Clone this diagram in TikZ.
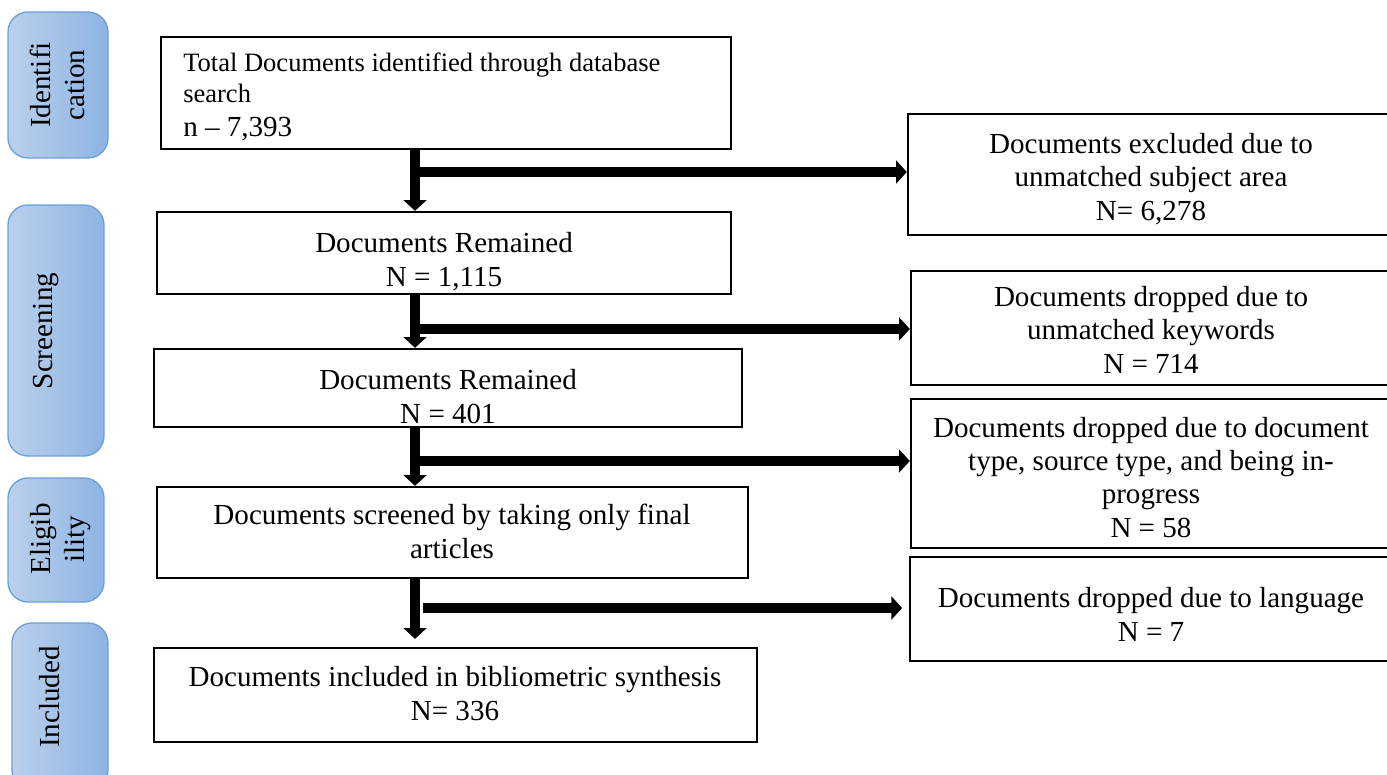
\documentclass[tikz,border=0pt]{standalone}
\usepackage{fontspec}
\setmainfont{Liberation Serif}
\usetikzlibrary{arrows.meta,fit}
\definecolor{lblL}{RGB}{187,208,236}
\definecolor{lblR}{RGB}{141,180,227}
\definecolor{lblB}{RGB}{108,160,216}
\newcommand{\mainfs}{\fontsize{21.8pt}{25pt}\selectfont}
\newcommand{\smallfs}{\fontsize{19.9pt}{22.5pt}\selectfont}
\begin{document}
\begin{tikzpicture}[x=0.75pt,y=-0.75pt,
  box/.style={draw=black,line width=1.8pt,inner sep=0pt,rectangle},
  lbl/.style={draw=lblB,line width=1pt,rounded corners=15pt,left color=lblL,right color=lblR,inner sep=0pt,rectangle},
  txt/.style={font=\mainfs,align=center,anchor=base,inner sep=0pt},
  rtxt/.style={font=\mainfs,align=center,anchor=base,inner sep=0pt,rotate=90},
  flow/.style={line width=7pt,-{Triangle[length=8pt,width=17pt]}}]
\clip (0,0) rectangle (1387,774);
% stage labels
\node[lbl, fit={(8,12) (108,158)}] (l1) {};
\node[rtxt] (l1t) at (84,85) {Identifi\\cation};
\node[lbl, fit={(8,205) (104,456)}] (l2) {};
\node[rtxt] (l2t) at (52,331) {Screening};
\node[lbl, fit={(8,478) (104,602)}] (l3) {};
\node[rtxt] (l3t) at (84,539) {Eligib\\ility};
\node[lbl, fit={(12,623) (108,790)}] (l4) {};
\node[rtxt] (l4t) at (59,697) {Included};
% main column
\node[box, fit={(161,37) (731,149)}] (b1) {};
\node[font=\smallfs, align=left, anchor=base west, inner sep=0pt] (b1t) at (183,102) {Total Documents identified through database\\search};
\node[font=\mainfs, anchor=base west, inner sep=0pt] (b1n) at (183,136) {n – 7,393};
\node[box, fit={(157,212) (731,294)}] (b2) {};
\begin{scope}
  \clip (157,212) rectangle (731,290);
  \node[txt] (b2t) at (444,286) {Documents Remained\\N = 1,115};
\end{scope}
\node[box, fit={(154,349) (742,427)}] (b3) {};
\begin{scope}
  \clip (154,349) rectangle (742,423);
  \node[txt] (b3t) at (448,423) {Documents Remained\\N = 401};
\end{scope}
\node[box, fit={(157,487) (748,578)}] (b4) {};
\node[txt] (b4t) at (452,558) {Documents screened by taking only final\\articles};
\node[box, fit={(154,648) (757,742)}] (b5) {};
\node[txt] (b5t) at (455,720) {Documents included in bibliometric synthesis\\N= 336};
% right column
\node[box, fit={(908,114) (1392,235)}] (r1) {};
\node[txt] (r1t) at (1151,220) {Documents excluded due to\\unmatched subject area\\N= 6,278};
\node[box, fit={(911,271) (1392,385)}] (r2) {};
\node[txt] (r2t) at (1151,373) {Documents dropped due to\\unmatched keywords\\N = 714};
\node[box, fit={(911,399) (1392,548)}] (r3) {};
\node[txt] (r3t) at (1151,537) {Documents dropped due to document\\type, source type, and being in-\\progress\\N = 58};
\node[box, fit={(910,557) (1392,661)}] (r4) {};
\node[txt] (r4t) at (1151,641) {Documents dropped due to language\\N = 7};
% connectors
\coordinate (v) at (415,0);
\coordinate (h1) at (415,172);
\coordinate (h2) at (415,329);
\coordinate (h3) at (415,461);
\coordinate (h4) at (423,608);
\draw[flow] (b1.south -| v) -- (b2.north -| v);
\draw[flow] (b2.south -| v) -- (b3.north -| v);
\draw[flow] (b3.south -| v) -- (b4.north -| v);
\draw[flow, shorten >=6pt] (b4.south -| v) -- (b5.north -| v);
\draw[flow] (h1) -- (h1 -| r1.west);
\draw[flow] (h2) -- (h2 -| r2.west);
\draw[flow] (h3) -- (h3 -| r3.west);
\draw[flow, shorten >=5pt] (h4) -- (h4 -| r4.west);
\end{tikzpicture}
\end{document}
